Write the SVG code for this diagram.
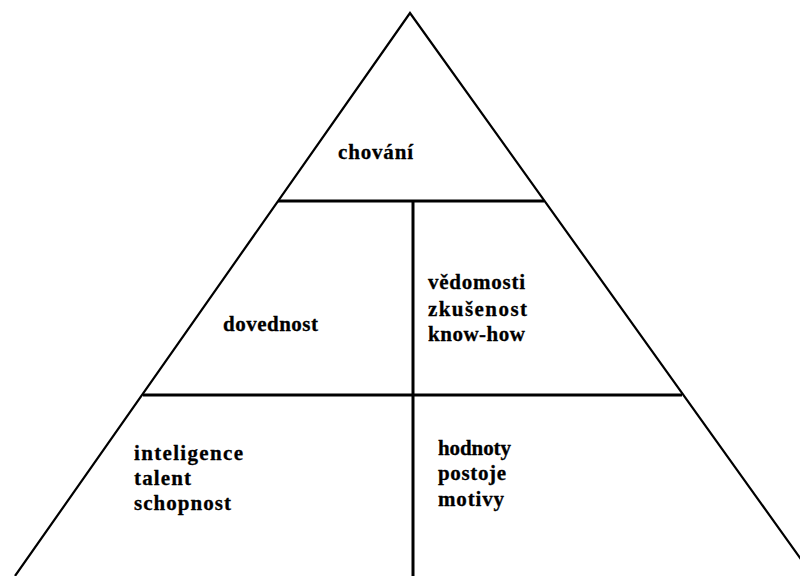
<svg xmlns="http://www.w3.org/2000/svg" width="800" height="576" viewBox="0 0 800 576">
<style>
.t{font-family:"Liberation Serif","Times New Roman",serif;font-weight:bold;font-size:21px;fill:#000;stroke:#000;stroke-width:0.3}
.edge{stroke:#000;stroke-width:2.2;fill:none}
.div{stroke:#000;stroke-width:3;fill:none}
</style>
<rect width="800" height="576" fill="#fff"/>
<g id="connectors">
<polyline class="edge" points="15,576 410,13 813,576"/>
<line class="div" x1="278" y1="201" x2="544" y2="201"/>
<line class="div" x1="413" y1="201" x2="413" y2="576"/>
<line class="div" x1="143" y1="395" x2="682" y2="395"/>
</g>
<g id="chovani"><text class="t" x="338" y="159" textLength="75" lengthAdjust="spacing">chování</text></g>
<g id="dovednost"><text class="t" x="223" y="331" textLength="95" lengthAdjust="spacing">dovednost</text></g>
<g id="vedomosti">
<text class="t" x="428" y="289" textLength="97" lengthAdjust="spacing">vědomosti</text>
<text class="t" x="428" y="316" textLength="99" lengthAdjust="spacing">zkušenost</text>
<text class="t" x="428" y="341" textLength="97" lengthAdjust="spacing">know-how</text>
</g>
<g id="inteligence">
<text class="t" x="134" y="460" textLength="109" lengthAdjust="spacing">inteligence</text>
<text class="t" x="134" y="485" textLength="57" lengthAdjust="spacing">talent</text>
<text class="t" x="134" y="510" textLength="97" lengthAdjust="spacing">schopnost</text>
</g>
<g id="hodnoty">
<text class="t" x="438" y="455" textLength="73" lengthAdjust="spacing">hodnoty</text>
<text class="t" x="438" y="480" textLength="68" lengthAdjust="spacing">postoje</text>
<text class="t" x="438" y="506" textLength="66" lengthAdjust="spacing">motivy</text>
</g>
</svg>
